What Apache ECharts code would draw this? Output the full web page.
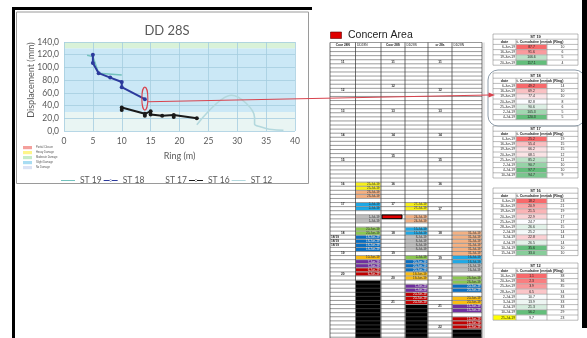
<!DOCTYPE html>
<html>
<head>
<meta charset="utf-8">
<script src="https://cdn.jsdelivr.net/npm/echarts@6/dist/echarts.min.js"></script>
<style>
  html, body { margin: 0; padding: 0; background: #fff; }
  #chart { width: 587px; height: 338px; }
</style>
</head>
<body>
<div id="chart"></div>
<script>
// ===== chart data: [ring, displacement (mm)] =====
const seriesNames = ['ST 19', 'ST 18', 'ST 17', 'ST 16', 'ST 12'];
const st19 = [[4, 119], [5, 117], [6, 91], [10, 88]];
const st18 = [[5, 120], [5, 107], [6, 91], [8, 84], [10, 77], [10, 69], [14, 50]];
const st17 = [];
const st16 = [[10, 33], [10, 37], [14, 27], [14, 24], [15, 31], [15, 26], [17, 24], [19, 25], [19, 22], [23, 20]];
const st12 = [[38, 1.1], [36, 2.3], [35, 3.9], [34, 6.5], [33, 10.7], [33, 13.9], [33, 21.3], [29, 56.2], [23, 9.7]];

// damage bands on the y axis
const bandLimits = [0, 30, 130, 140];
const damageNames = ['Partial Closure', 'Heavy Damage', 'Moderate Damage', 'Slight Damage', 'No Damage'];

// ===== right hand tables =====
const st19Dates = ['6-Jun-19', '16-Jun-19', '19-Jun-19', '20-Jun-19'];
const st19Cum = [87.7, 91.6, 106.6, 117.1];
const st19Ring = [10, 6, 5, 4];

const st18Dates = ['6-Jun-19', '16-Jun-19', '19-Jun-19', '20-Jun-19', '25-Jun-19', '2-Jul-19', '4-Jul-19'];
const st18Cum = [49.2, 69.2, 77.4, 82.8, 90.6, 105.3, 120.3];
const st18Ring = [14, 10, 10, 8, 6, 5, 5];

const st17Dates = ['6-Jun-19', '16-Jun-19', '19-Jun-19', '20-Jun-19', '25-Jun-19', '2-Jul-19', '4-Jul-19', '10-Jul-19'];
const st17Cum = [25.2, 55.4, 66.2, 68.1, 85.2, 90.7, 97.7, 94.7];
const st17Ring = [19, 15, 15, 12, 11, 10, 10, 9];

const st16Dates = ['6-Jun-19', '16-Jun-19', '19-Jun-19', '20-Jun-19', '25-Jun-19', '28-Jun-19', '2-Jul-19', '3-Jul-19', '4-Jul-19', '10-Jul-19', '15-Jul-19'];
const st16Cum = [18.2, 20.9, 21.5, 22.9, 24.7, 26.6, 25.2, 22.8, 26.5, 35.6, 33.0];
const st16Ring = [23, 21, 19, 17, 17, 15, 14, 14, 14, 10, 10];

const st12Dates = ['16-Jun-19', '20-Jun-19', '25-Jun-19', '28-Jun-19', '2-Jul-19', '3-Jul-19', '4-Jul-19', '10-Jul-19', '25-Jul-19'];
const st12Cum = [1.1, 2.3, 3.9, 6.5, 10.7, 13.9, 21.3, 56.2, 9.7];
const st12Ring = [38, 36, 35, 34, 33, 33, 33, 29, 23];

// ring table: headers, ring labels [col, row, text], coloured cells [col, row, key, date]
const ringHeaders = ['Coor 28N', 'DD28N', 'Coor 28S', 'DD28S', 'cr 28s', 'DD28N'];
const ringLabels = [
  [0, 3, '11'], [0, 10, '12'], [0, 15, '13'], [0, 21, '14'], [0, 27, '15'], [0, 33, '16'],
  [0, 38, '17'], [0, 45, '18'], [0, 46, '18/19'], [0, 47, '18/19'], [0, 48, '18/19'], [0, 50, '19'], [0, 55, '20'],
  [2, 3, '11'], [2, 9, '12'], [2, 15, '13'], [2, 21, '14'], [2, 26, '15'], [2, 33, '16'],
  [2, 38, '17'], [2, 45, '18'], [2, 50, '19'], [2, 56, '20'], [2, 62, '21'],
  [4, 3, '11'], [4, 10, '12'], [4, 15, '13'], [4, 21, '14'], [4, 27, '15'], [4, 33, '16'],
  [4, 39, '17'], [4, 45, '18'], [4, 51, '19'], [4, 56, '20'], [4, 63, '21'], [4, 68, '22']
];
const ringCells = [
  [1, 33, 'y', '25-Jul-19'], [1, 34, 'y', '25-Jul-19'], [1, 35, 'p', '23-Jul-19'], [1, 36, 'p', '23-Jul-19'],
  [1, 38, 'lb', '2-Jul-19'], [1, 39, 'lb', '2-Jul-19'], [1, 41, 'g', '1-Jul-19'], [1, 42, 'g', '1-Jul-19'],
  [1, 44, 'gr', '20-Jun-19'], [1, 45, 'gr', '20-Jun-19'], [1, 46, 'db', '18-Jun-19'], [1, 47, 'db', '18-Jun-19'],
  [1, 48, 'db', '18-Jun-19'], [1, 49, 'db', '18-Jun-19'], [1, 51, 'o', '10-Jun-19'], [1, 52, 'pu', '7-Jun-19'],
  [1, 53, 'pu', '7-Jun-19'], [1, 54, 'r', '6-Jun-19'], [1, 55, 'r', '6-Jun-19'],
  [3, 38, 'y', '27-Jul-19'], [3, 39, 'y', '27-Jul-19'], [3, 41, 'p', '24-Jul-19'], [3, 42, 'p', '24-Jul-19'],
  [3, 44, 'lb', '15-Jul-19'], [3, 45, 'lb', '15-Jul-19'], [3, 46, 'g', '8-Jul-19'], [3, 47, 'g', '8-Jul-19'],
  [3, 48, 'g', '8-Jul-19'], [3, 49, 'g', '8-Jul-19'], [3, 51, 'gr', '2-Jul-19'], [3, 52, 'db', '20-Jun-19'],
  [3, 53, 'db', '20-Jun-19'], [3, 54, 'db', '20-Jun-19'], [3, 55, 'o', '19-Jun-19'], [3, 56, 'o', '19-Jun-19'],
  [3, 58, 'pu', '7-Jun-19'], [3, 59, 'pu', '7-Jun-19'], [3, 60, 'r', '20-Jun-19'], [3, 61, 'r', '20-Jun-19'], [3, 62, 'r', '20-Jun-19'],
  [5, 45, 'p', '31-Jul-19'], [5, 46, 'p', '31-Jul-19'], [5, 47, 'p', '31-Jul-19'], [5, 48, 'p', '31-Jul-19'],
  [5, 49, 'p', '31-Jul-19'], [5, 50, 'p', '31-Jul-19'], [5, 51, 'lb', '16-Jul-19'], [5, 52, 'lb', '16-Jul-19'],
  [5, 53, 'g', '16-Jul-19'], [5, 54, 'g', '16-Jul-19'], [5, 56, 'gr', '23-Jun-19'], [5, 57, 'gr', '23-Jun-19'],
  [5, 58, 'db', '20-Jun-19'], [5, 59, 'db', '20-Jun-19'], [5, 61, 'o', '20-Jun-19'], [5, 62, 'o', '20-Jun-19'],
  [5, 63, 'pu', '15-Jun-19'], [5, 64, 'pu', '15-Jun-19'], [5, 66, 'r', '12-Jun-19'], [5, 67, 'r', '12-Jun-19'], [5, 68, 'r', '12-Jun-19']
];
const blackRuns = [[1, 57, 71], [3, 63, 71], [5, 69, 71]];
const concernCell = [2, 41];

// ===== styles =====
const FONT = 'Lato, "Open Sans", sans-serif';
const AXIS_COLOR = '#595959';
const bandColors = ['#e9f5f3', '#cbe8f6', '#d9f2d8'];
const damageColors = ['#f4a09c', '#fdf58a', '#c5ebc8', '#a8dcf2', '#dbe2f4'];
const cellColors = {
  y: '#f7f01c', p: '#f4b183', lb: '#1fa9e6', g: '#bfbfbf', gr: '#8cc850',
  db: '#0a6fc2', o: '#fbbd12', pu: '#7030a0', r: '#c00000'
};
const darkCells = ['db', 'pu', 'r'];
// legend icons: thin bar inside a taller invisible box, optionally with a small dot
const LINE_ICON = 'path://M0,0L0.01,0L0.01,0.01ZM0,4.3H20V5.7H0ZM0,10L0.01,10L0.01,10.01Z';
const DOT_ICON = 'path://M0,0L0.01,0L0.01,0.01ZM0,4.2H20V5.8H0ZM8.4,5A1.6,1.6,0,1,0,11.6,5A1.6,1.6,0,1,0,8.4,5ZM0,10L0.01,10L0.01,10.01Z';

const fmt = (v) => v.toFixed(1).replace('.', ',');

const chart = echarts.init(document.getElementById('chart'));

const lineSeries = (name, data, color, width, symbol, extra) => Object.assign({
  name, type: 'line', data, z: 3,
  symbol: symbol ? 'circle' : 'none', symbolSize: 4, showSymbol: !!symbol,
  lineStyle: { color, width },
  itemStyle: { color }
}, extra || {});

chart.setOption({
  animation: false,
  title: {
    text: 'DD 28S', left: 162, top: 19, textAlign: 'center',
    textStyle: { fontSize: 13, fontWeight: 'normal', color: AXIS_COLOR, fontFamily: FONT }
  },
  grid: { left: 64, top: 42, width: 231, height: 89 },
  xAxis: {
    type: 'value', min: 0, max: 40, interval: 5, z: 2,
    axisLine: { show: false }, axisTick: { show: false },
    axisLabel: { fontSize: 8.5, color: AXIS_COLOR, margin: 6, fontFamily: FONT },
    splitLine: { lineStyle: { color: '#a4cde0', width: 0.8 } },
    name: 'Ring (m)', nameLocation: 'middle', nameGap: 21,
    nameTextStyle: { fontSize: 9, color: AXIS_COLOR, fontFamily: FONT }
  },
  yAxis: {
    type: 'value', min: 0, max: 140, interval: 20, z: 2,
    axisLine: { show: false }, axisTick: { show: false },
    axisLabel: { fontSize: 8.5, color: AXIS_COLOR, margin: 5, fontFamily: FONT, formatter: fmt },
    splitLine: { lineStyle: { color: '#a4cde0', width: 0.8 } }
  },
  legend: {
    data: [
      { name: 'ST 19', icon: LINE_ICON },
      { name: 'ST 18', icon: DOT_ICON },
      { name: 'ST 17', icon: LINE_ICON },
      { name: 'ST 16', icon: DOT_ICON },
      { name: 'ST 12', icon: LINE_ICON }
    ],
    left: 56, top: 171, itemWidth: 14, itemHeight: 7, itemGap: 2,
    textStyle: { fontSize: 8.5, color: AXIS_COLOR, fontFamily: FONT }
  },
  series: [
    {
      name: 'bands', type: 'line', data: [[0, 0]], symbol: 'none', z: 1,
      lineStyle: { opacity: 0 },
      markArea: {
        silent: true, z: 1,
        data: bandColors.map((c, i) => [
          { yAxis: bandLimits[i], itemStyle: { color: c } },
          { yAxis: bandLimits[i + 1] }
        ])
      }
    },
    lineSeries('ST 19', st19, '#74c2bd', 1.5, false),
    lineSeries('ST 18', st18, '#2c3a9c', 2, true),
    lineSeries('ST 17', st17, 'rgba(0,0,0,0)', 1, false),
    lineSeries('ST 16', st16, '#1a1a1a', 2, true),
    lineSeries('ST 12', st12, '#b3d8dd', 1.6, false, { smooth: 0.35 })
  ]
});

// ===== annotation, frame and tables as graphic elements =====
const g = [];
const txt = (x, y, text, size, opts) => g.push({
  type: 'text', x, y, z: 20,
  style: Object.assign({
    text, fontSize: size, fill: '#222', fontFamily: '"Liberation Sans", Arial, sans-serif',
    align: 'center', verticalAlign: 'middle'
  }, opts || {})
});
const line = (x1, y1, x2, y2, color, w, z) => g.push({
  type: 'line', z: z || 15, shape: { x1, y1, x2, y2 }, style: { stroke: color, lineWidth: w }
});
const box = (x, y, width, height, style, z) => g.push({
  type: 'rect', z: z || 12, shape: { x, y, width, height }, style
});

// chart frame
box(16.5, 12, 292, 171.5, { fill: 'none', stroke: '#9a9a9a', lineWidth: 1 }, 5);
box(12, 7, 3, 331, { fill: '#000' }, 30);
box(12, 7, 300, 3, { fill: '#000' }, 30);

// y axis title and damage key
txt(31, 80, 'Displacement (mm)', 9, { fontFamily: FONT, fill: AXIS_COLOR });
g[g.length - 1].rotation = Math.PI / 2;
damageNames.forEach((n, i) => {
  box(23, 146 + i * 5, 9, 3.2, { fill: damageColors[i] });
  txt(36, 147.6 + i * 5, n, 2.6, { align: 'left', fill: '#555' });
});

// concern legend
box(330.5, 32, 11, 6.5, { fill: '#e00000', stroke: '#600000', lineWidth: 0.6 });
txt(348, 35.3, 'Concern Area', 10.5, { align: 'left' });

// ring table
const colX = [330, 355.5, 381, 405, 428, 452, 482];
const tTop = 42.5, tHead = 5, rowH = 4.08, nRows = 72;
const rowY = (r) => tTop + tHead + r * rowH;
const cellBox = (c, r, fill) => box(colX[c] + 0.5, rowY(r) + 0.4, colX[c + 1] - colX[c] - 1, rowH - 0.8, { fill }, 11);

ringCells.forEach(([c, r, k, d]) => {
  cellBox(c, r, cellColors[k]);
  txt(colX[c + 1] - 1.5, rowY(r) + rowH / 2, d, 3, {
    align: 'right', fill: darkCells.includes(k) ? '#e8e8e8' : '#333'
  });
});
blackRuns.forEach(([c, r0, r1]) => {
  box(colX[c] + 0.5, rowY(r0) + 0.4, colX[c + 1] - colX[c] - 1, (r1 - r0 + 1) * rowH, { fill: '#000' }, 11);
});
box(colX[concernCell[0]] + 1, rowY(concernCell[1]) + 0.2, 20, rowH - 0.4,
  { fill: '#e00000', stroke: '#000', lineWidth: 1 }, 16);

line(colX[0], tTop, colX[6], tTop, '#555', 0.6);
for (let r = 0; r <= nRows; r++) {
  const y = rowY(r);
  if (y < 338) line(colX[0], y, colX[6], y, '#555', 0.6);
}
colX.forEach((x) => line(x, tTop, x, 338, '#333', 0.7));
line(484, tTop, 484, 338, '#999', 0.5);

ringHeaders.forEach((h, i) => {
  const bold = i % 2 === 0;
  const x = bold ? (colX[i] + colX[i + 1]) / 2 : colX[i] + 1.5;
  txt(x, tTop + tHead / 2, h, 3.2, { align: bold ? 'center' : 'left', fontWeight: bold ? 'bold' : 'normal' });
});
ringLabels.forEach(([c, r, t]) => {
  const long = t.length > 2;
  txt(long ? colX[c] + 1 : (colX[c] + colX[c + 1]) / 2, rowY(r) + rowH / 2, t, 3.2,
    { fontWeight: 'bold', align: long ? 'left' : 'center' });
});

// station tables with 3-colour scale (min red, median white, max green)
const mix = (a, b, t) => a.map((v, i) => Math.round(v + (b[i] - v) * t));
const scaleColor = (v, arr) => {
  const s = arr.slice().sort((a, b) => a - b);
  const n = s.length;
  const mid = n % 2 ? s[(n - 1) / 2] : (s[n / 2 - 1] + s[n / 2]) / 2;
  const red = [248, 105, 107], white = [252, 252, 255], green = [99, 190, 123];
  const c = v <= mid
    ? mix(red, white, (v - s[0]) / ((mid - s[0]) || 1))
    : mix(white, green, (v - mid) / ((s[n - 1] - mid) || 1));
  return 'rgb(' + c.join(',') + ')';
};
const stCols = [493, 516, 547, 578];
const stRow = 5.2;
const stationTable = (name, top, dates, cum, ring, markDate) => {
  const bottom = top + (dates.length + 2) * stRow;
  txt((stCols[0] + stCols[3]) / 2, top + stRow / 2, name, 4, { fontWeight: 'bold' });
  txt((stCols[0] + stCols[1]) / 2, top + stRow * 1.5, 'date', 3.6, { fontWeight: 'bold' });
  txt(stCols[1] + 0.5, top + stRow * 1.5, 't. Cumulative (mm', 3.6, { fontWeight: 'bold', align: 'left' });
  txt(stCols[2] + 1, top + stRow * 1.5, 'ak (Ring)', 3.6, { fontWeight: 'bold', align: 'left' });
  dates.forEach((d, i) => {
    const y = top + (i + 2) * stRow;
    if (i === markDate) box(stCols[0] + 0.3, y + 0.3, stCols[1] - stCols[0] - 0.6, stRow - 0.6, { fill: '#ffff00' });
    box(stCols[1] + 0.3, y + 0.3, stCols[2] - stCols[1] - 0.6, stRow - 0.6, { fill: scaleColor(cum[i], cum) });
    txt(stCols[1] - 1, y + stRow / 2, d, 3.3, { align: 'right' });
    txt((stCols[1] + stCols[2]) / 2, y + stRow / 2, cum[i].toFixed(1), 3.4);
    txt((stCols[2] + stCols[3]) / 2, y + stRow / 2, String(ring[i]), 3.4);
  });
  for (let k = 0; k <= dates.length + 2; k++) {
    line(stCols[0], top + k * stRow, stCols[3], top + k * stRow, '#777', 0.5);
  }
  line(stCols[0], top, stCols[0], bottom, '#777', 0.5);
  line(stCols[3], top, stCols[3], bottom, '#777', 0.5);
  line(stCols[1], top + stRow, stCols[1], bottom, '#777', 0.5);
  line(stCols[2], top + stRow, stCols[2], bottom, '#777', 0.5);
};
stationTable('ST 19', 34, st19Dates, st19Cum, st19Ring, -1);
stationTable('ST 18', 73, st18Dates, st18Cum, st18Ring, -1);
stationTable('ST 17', 126, st17Dates, st17Cum, st17Ring, -1);
stationTable('ST 16', 188, st16Dates, st16Cum, st16Ring, -1);
stationTable('ST 12', 263, st12Dates, st12Cum, st12Ring, st12Dates.length - 1);

// circled ST 18 block and right edge
g.push({ type: 'rect', z: 25, shape: { x: 488, y: 70, width: 97, height: 56, r: 10 },
  style: { fill: 'none', stroke: '#8d9ba8', lineWidth: 1 } });
box(582, 0, 5, 328, { fill: '#000' }, 30);

// red ellipse around the last ST 18 reading and the arrow to its table
const c = chart.convertToPixel({ xAxisIndex: 0, yAxisIndex: 0 }, [14, 51]);
g.push({ type: 'ellipse', z: 40, shape: { cx: c[0], cy: c[1], rx: 3, ry: 11.5 },
  style: { fill: 'none', stroke: '#d8434e', lineWidth: 1.1 } });
line(c[0] + 3, c[1] + 3.2, 489, 95, '#d8434e', 1.1, 40);
g.push({ type: 'polygon', z: 40, shape: { points: [[495, 94.9], [488.5, 92.6], [488.5, 97.4]] },
  style: { fill: '#d8434e' } });

chart.setOption({ graphic: g });
</script>
</body>
</html>
